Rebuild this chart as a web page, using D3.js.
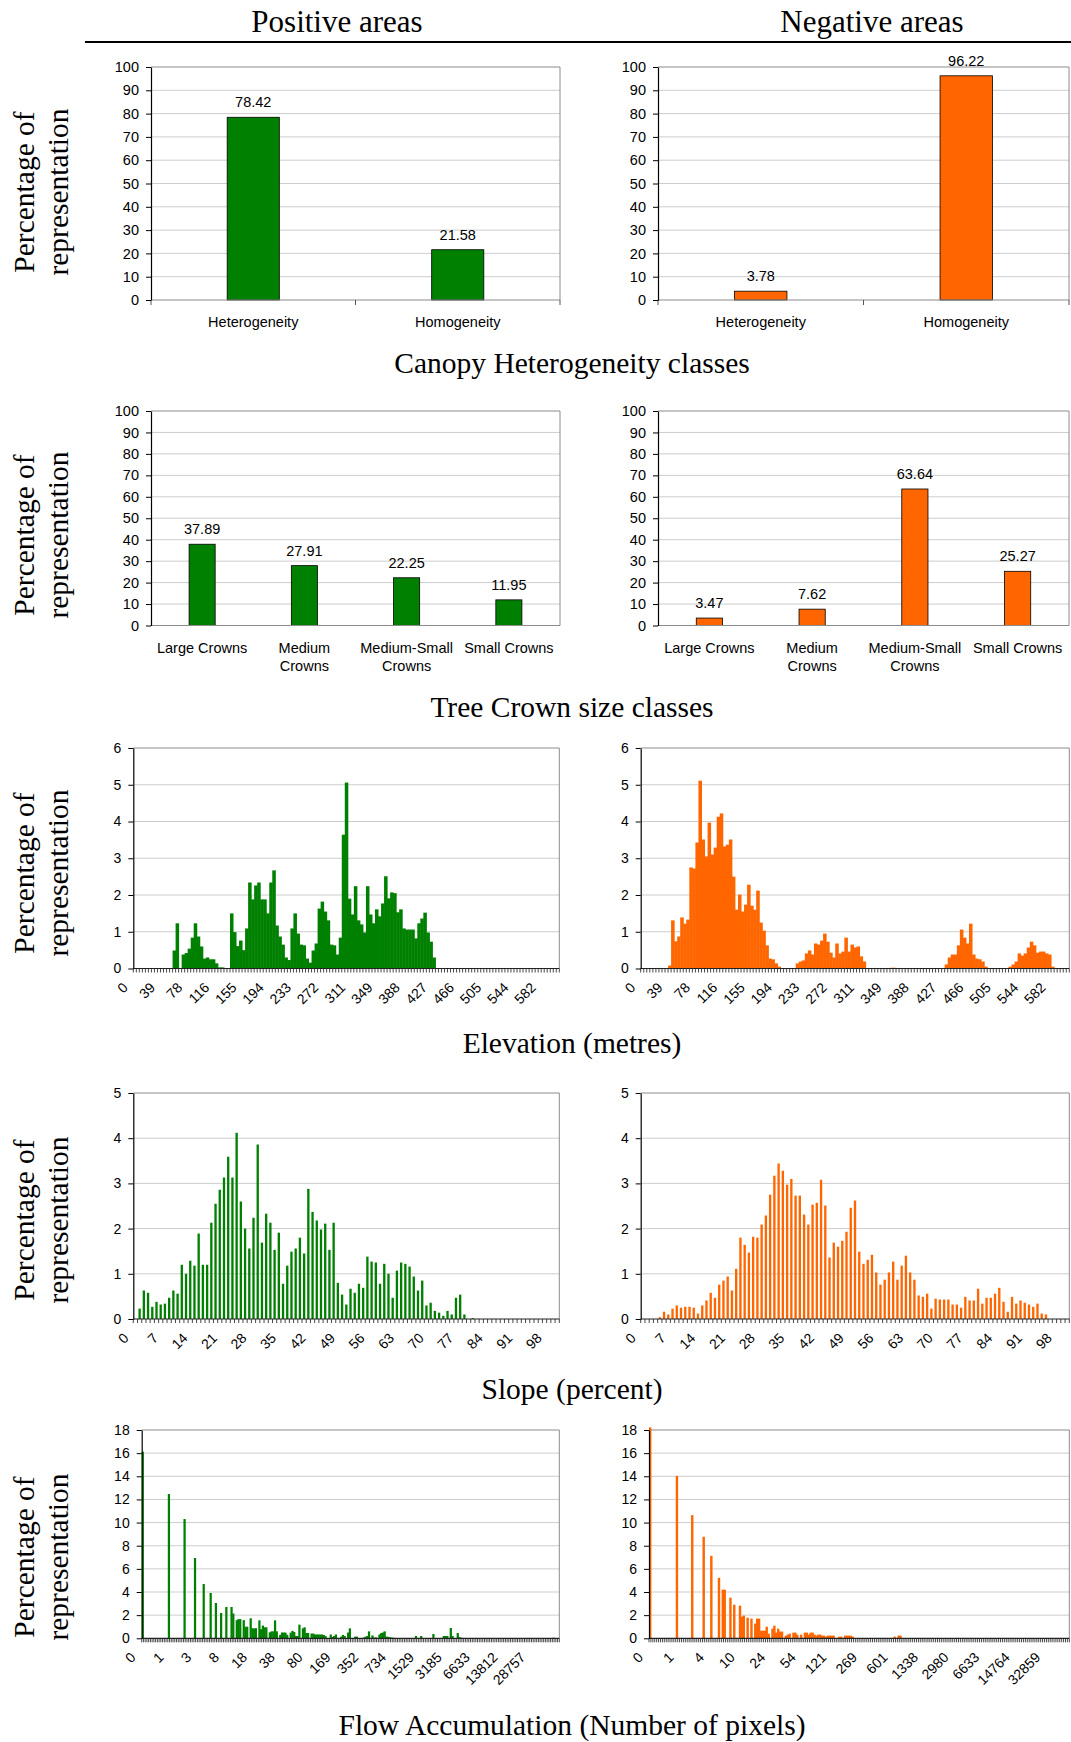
<!DOCTYPE html>
<html><head><meta charset="utf-8">
<script src="https://cdn.jsdelivr.net/npm/d3@7"></script>
<style>
html,body{margin:0;padding:0;background:#fff;}
svg{display:block;}
</style></head>
<body>
<svg id="chart" width="1071" height="1742"></svg>
<script>
// ---------------- DATA ----------------
const panelHeadings = ["Positive areas", "Negative areas"];
const yAxisTitle = ["Percentage of", "representation"];
const rowTitles = ["Canopy Heterogeneity classes", "Tree Crown size classes", "Elevation (metres)", "Slope (percent)", "Flow Accumulation (Number of pixels)"];

const canopyCats = ["Heterogeneity", "Homogeneity"];
const canopyPos = [78.42, 21.58];
const canopyNeg = [3.78, 96.22];

const crownCats = ["Large Crowns", "Medium|Crowns", "Medium-Small|Crowns", "Small Crowns"];
const crownPos = [37.89, 27.91, 22.25, 11.95];
const crownNeg = [3.47, 7.62, 63.64, 25.27];

const elevTickLabels = ["0","39","78","116","155","194","233","272","311","349","388","427","466","505","544","582"];
const elevPos = [0,0,0,0,0,0,0,0,0,0,0,0,0,
 0.49,1.23,0,0.38,0.42,0.54,0.84,1.23,0.87,0.60,0.27,0.30,0.25,0.25,0.14,0.03,0.03,0,0,
 1.50,0.99,0.61,0.76,0.50,1.09,
 2.34,1.88,2.26,2.34,1.88,1.88,1.50,2.34,2.67,1.17,
 0.87,0.65,0.30,0.23,1.09,1.50,0.95,0.65,0.63,0.27,
 0.16,0.49,0.68,1.63,1.82,1.55,1.31,0.65,0.63,0.38,
 0.84,3.64,5.06,1.90,1.47,2.24,1.31,1.20,0.98,2.24,
 1.47,1.23,1.61,1.42,1.77,2.51,1.91,2.07,2.05,1.53,
 1.61,1.09,1.06,1.06,1.06,0.82,1.23,1.36,1.52,0.98,
 0.73,0.30,
 0,0,0,0,0,0,0,0,0,0, 0,0,0,0,0,0,0,0,0,0, 0,0,0,0,0,0,0,0,0,0, 0,0,0,0,0,0,0,0,0,0, 0];
const elevNeg = [0,0,0,0,0,0,0,0,0,
 0.08,1.31,0.74,0.87,1.39,1.22,1.33,2.75,2.72,3.43,5.11,3.51,3.05,3.97,3.10,3.29,4.13,4.22,3.32,3.37,3.51,
 2.50,1.60,2.01,1.55,1.74,2.28,1.71,1.60,2.12,1.25,1.03,0.63,0.27,0.25,0.14,0.05,
 0,0,0,0,0,
 0.14,0.19,0.22,0.41,0.49,0.38,0.68,0.65,0.76,0.95,0.73,0.43,0.30,0.68,0.41,0.46,0.84,0.46,0.65,0.57,0.60,0.33,0.19,
 0,0,0,0,0,0,0,0,
 0.02,0.02,
 0,0,0,0,0,0,0,0,0,0,0,0,0,0,0,0,
 0.11,0.30,0.38,0.38,0.63,1.06,0.84,0.68,1.22,0.38,0.27,0.25,0.19,0.05,
 0,0,0,0,0,0,0,
 0.05,0.11,0.19,0.41,0.35,0.41,0.57,0.73,0.63,0.43,0.46,0.46,0.41,0.38,0.05,
 0,0,0,0,0];

const slopeTickLabels = ["0","7","14","21","28","35","42","49","56","63","70","77","84","91","98"];
const slopePos = [0,
 0.23,0.63,0.58,0.27,0.38,0.32,0.34,0.47,0.63,0.56,
 1.20,1.00,1.29,1.18,1.89,1.20,1.20,2.13,2.55,2.86,
 3.13,3.59,3.13,4.12,2.60,2.00,1.56,2.24,3.86,1.69,
 2.33,2.13,1.53,1.91,0.78,1.18,1.49,1.56,1.80,1.45,
 2.88,2.37,2.18,1.98,2.11,1.53,2.13,0.80,0.54,0.32,
 0.67,0.58,0.78,0.69,1.38,1.27,1.25,0.78,1.22,1.00,
 0.47,1.07,1.25,1.22,1.16,0.94,0.63,0.85,0.30,0.36,
 0.18,0.14,0.07,0.18,0.10,0.47,0.54,0.10,0,0.02,
 0,0,0,0,0,0,0,0,0,0, 0,0,0,0,0,0,0,0,0,0];
const slopeNeg = [0,0,0,0,
 0.04,0.16,0.10,0.23,0.30,0.25,0.27,0.27,0.25,0.12,0.30,0.41,0.58,0.47,0.76,0.85,0.94,0.63,1.11,1.80,1.64,1.47,1.82,1.80,2.09,2.29,
 2.75,3.17,3.44,3.28,2.97,3.10,2.73,2.73,2.31,2.09,2.53,2.57,3.08,2.51,1.36,1.69,1.60,1.73,1.93,2.46,
 2.62,1.49,1.22,1.31,1.42,1.03,0.76,0.87,1.03,1.27,0.87,1.18,1.40,1.03,0.87,0.52,0.49,0.56,0.23,0.45,
 0.43,0.43,0.43,0.32,0.32,0.25,0.49,0.41,0.41,0.67,0.34,0.47,0.47,0.56,0.69,0.38,0.16,0.49,0.34,0.41,
 0.36,0.32,0.27,0.34,0.12,0.10,
 0,0,0,0,0];

// flow accumulation: geometric bins, [bin index, percentage]
const flowPosBinCount = 240;
const flowNegBinCount = 220;
const flowPosTickLabels = ["0","1","3","8","18","38","80","169","352","734","1529","3185","6633","13812","28757"];
const flowNegTickLabels = ["0","1","4","10","24","54","121","269","601","1338","2980","6633","14764","32859"];
const flowPos = [[0,16.13],[15,12.47],[24,10.31],[30,6.94],[35,4.69],[39,3.92],[42,3.05],[45,2.19],[48,2.71],[51,2.71],[52,2.14],[54,1.57],[55,1.66],[56,1.66],[58,1.57],[59,1.0],[60,1.0],[62,1.73],[63,0.88],[64,0.84],[65,0.88],[67,1.55],[68,0.78],[69,1.1],[70,0.95],[71,0.95],[73,0.52],[74,0.6],[75,0.6],[76,1.55],[77,0.6],[79,0.3],[80,0.5],[81,0.5],[82,0.49],[83,0.3],[85,0.49],[86,0.64],[87,0.55],[88,0.2],[89,0.2],[90,1.18],[92,0.86],[93,0.95],[94,0.46],[95,0.46],[97,0.41],[98,0.41],[99,0.33],[100,0.33],[101,0.33],[102,0.33],[103,0.33],[104,0.29],[105,0.2],[108,0.33],[109,0.12],[110,0.2],[111,0.33],[114,0.14],[115,0.29],[116,0.2],[118,0.5],[119,0.86],[122,0.14],[123,0.15],[127,0.06],[128,0.14],[129,0.2],[130,0.6],[132,0.25],[133,0.06],[134,0.08],[136,0.33],[137,0.45],[138,0.5],[139,0.6],[140,0.15],[141,0.12],[142,0.1],[143,0.06],[144,0.05],[157,0.2],[160,0.2],[167,0.37],[173,0.2],[174,0.2],[175,0.2],[177,0.89],[178,0.2],[181,0.46],[182,0.1],[183,0.05],[236,0.05]];
const flowNeg = [[0,18.23],[14,14.03],[22,10.64],[28,8.77],[32,7.13],[36,5.23],[38,4.2],[39,4.2],[42,3.51],[44,2.9],[47,2.82],[48,1.87],[49,1.96],[51,1.78],[53,1.7],[55,1.27],[56,1.7],[57,1.7],[58,0.66],[59,0.66],[60,0.66],[61,1.0],[62,0.4],[64,0.83],[65,1.09],[66,0.49],[67,0.83],[68,0.58],[69,0.58],[71,0.23],[72,0.32],[73,0.4],[75,0.49],[76,0.49],[77,0.32],[79,0.32],[81,0.49],[82,0.49],[83,0.32],[84,0.49],[85,0.49],[86,0.32],[87,0.23],[88,0.32],[89,0.32],[90,0.23],[91,0.23],[92,0.14],[93,0.23],[94,0.23],[95,0.23],[96,0.23],[99,0.14],[100,0.14],[102,0.23],[103,0.23],[104,0.23],[105,0.23],[106,0.14],[128,0.14],[130,0.23],[131,0.23]];

// ---------------- STYLE / LAYOUT ----------------
const GREEN = "#008000", ORANGE = "#FF6600";
const SERIF = "'Liberation Serif','Times New Roman',Times,serif";
const SANS = "'Liberation Sans',Arial,Helvetica,sans-serif";
const svg = d3.select("#chart");

// headings
const headX = [337, 872];
panelHeadings.forEach((h, i) => {
  svg.append("text").attr("x", headX[i]).attr("y", 32).attr("text-anchor", "middle")
    .attr("font-family", SERIF).attr("font-size", 31).text(h);
});
svg.append("line").attr("x1", 85).attr("x2", 1071).attr("y1", 42).attr("y2", 42)
  .attr("stroke", "#000").attr("stroke-width", 2);

// row titles and y titles
const rowTitleY = [373, 717, 1053, 1399, 1735];
rowTitles.forEach((t, i) => {
  svg.append("text").attr("x", 572).attr("y", rowTitleY[i]).attr("text-anchor", "middle")
    .attr("font-family", SERIF).attr("font-size", 29.5).text(t);
});
const yTitleCenter = [192, 535, 873, 1220, 1557];
yTitleCenter.forEach(cy => {
  const g = svg.append("g").attr("transform", `translate(41,${cy}) rotate(-90)`);
  g.append("text").attr("x", 0).attr("y", -17).attr("dy", "0.33em").attr("text-anchor", "middle")
    .attr("font-family", SERIF).attr("font-size", 29.5).text(yAxisTitle[0]);
  g.append("text").attr("x", 0).attr("y", 17).attr("dy", "0.33em").attr("text-anchor", "middle")
    .attr("font-family", SERIF).attr("font-size", 29.5).text(yAxisTitle[1]);
});

function frame(x0, x1, y, tickVals) {
  const g = svg.append("g");
  const yTop = y(tickVals[tickVals.length - 1]), yBot = y(0);
  g.selectAll("line.grid").data(tickVals.slice(1, -1)).join("line")
    .attr("x1", x0).attr("x2", x1).attr("y1", d => y(d)).attr("y2", d => y(d))
    .attr("stroke", "#cdcdcd").attr("stroke-width", 1);
  g.append("path").attr("d", `M${x0},${yTop}H${x1}V${yBot}`).attr("fill", "none")
    .attr("stroke", "#8c8c8c").attr("stroke-width", 1);
  return g;
}
function leftAxis(x0, y, tickVals, fs) {
  const ax = svg.append("g").attr("transform", `translate(${x0},0)`)
    .call(d3.axisLeft(y).tickValues(tickVals).tickFormat(d3.format("d")).tickSize(5).tickSizeOuter(0).tickPadding(7));
  ax.select(".domain").attr("stroke", "#000").attr("stroke-width", 1.2);
  ax.selectAll(".tick line").attr("stroke", "#000");
  ax.selectAll(".tick text").attr("font-family", SANS).attr("font-size", fs).attr("fill", "#000");
}

// ---------- categorical bar panels ----------
function barPanel(cats, vals, color, x0, x1, yTop, yBot) {
  const fs = 14.5;
  const y = d3.scaleLinear().domain([0, 100]).range([yBot, yTop]);
  const ticks = d3.range(0, 101, 10);
  const x = d3.scaleBand().domain(cats).range([x0, x1]).padding(0);
  frame(x0, x1, y, ticks);
  const bw = x.bandwidth() * 0.255;
  svg.append("g").selectAll("rect").data(cats).join("rect")
    .attr("x", d => x(d) + (x.bandwidth() - bw) / 2).attr("width", bw)
    .attr("y", (d, i) => y(vals[i])).attr("height", (d, i) => yBot - y(vals[i]))
    .attr("fill", color).attr("stroke", "#000").attr("stroke-width", 0.8);
  svg.append("line").attr("x1", x0).attr("x2", x1).attr("y1", yBot).attr("y2", yBot)
    .attr("stroke", "#8c8c8c").attr("stroke-width", 1.2);
  if (cats.length === 2) {
    [x0, x0 + x.bandwidth(), x1].forEach(tx => {
      svg.append("line").attr("x1", tx).attr("x2", tx).attr("y1", yBot).attr("y2", yBot + 5)
        .attr("stroke", "#555").attr("stroke-width", 1);
    });
  }
  leftAxis(x0, y, ticks, fs);
  svg.append("g").selectAll("text").data(cats).join("text")
    .attr("x", d => x(d) + x.bandwidth() / 2).attr("y", (d, i) => y(vals[i]) - 10)
    .attr("text-anchor", "middle").attr("font-family", SANS).attr("font-size", fs)
    .text((d, i) => vals[i].toFixed(2));
  cats.forEach(c => {
    const lines = c.split("|");
    const t = svg.append("text").attr("text-anchor", "middle").attr("font-family", SANS).attr("font-size", fs);
    lines.forEach((ln, k) => {
      t.append("tspan").attr("x", x(c) + x.bandwidth() / 2).attr("y", yBot + 27 + k * 18).text(ln);
    });
  });
}

barPanel(canopyCats, canopyPos, GREEN, 151, 560, 67, 300);
barPanel(canopyCats, canopyNeg, ORANGE, 658, 1069, 67, 300);
barPanel(crownCats, crownPos, GREEN, 151, 560, 411, 625.5);
barPanel(crownCats, crownNeg, ORANGE, 658, 1069, 411, 625.5);

// ---------- histogram panels ----------
function histPanel(opts) {
  const { vals, nCat, color, x0, x1, yTop, yBot, yMax, yStep, tickLabels, every, barFrac } = opts;
  const fs = 14;
  const y = d3.scaleLinear().domain([0, yMax]).range([yBot, yTop]);
  const ticks = d3.range(0, yMax + yStep / 2, yStep);
  const x = d3.scaleBand().domain(d3.range(nCat)).range([x0, x1]).padding(0);
  frame(x0, x1, y, ticks);
  const bw = x.bandwidth() * barFrac;
  svg.append("g").selectAll("rect").data(vals.filter(d => d[1] > 0)).join("rect")
    .attr("x", d => x(d[0]) + (x.bandwidth() - bw) / 2).attr("width", bw + (barFrac === 1 ? 0.5 : 0))
    .attr("y", d => y(d[1])).attr("height", d => yBot - y(d[1]))
    .attr("fill", color);
  const bounds = d3.range(nCat + 1).map(i => i < nCat ? x(i) : x1);
  svg.append("g").selectAll("line").data(bounds).join("line")
    .attr("x1", d => d).attr("x2", d => d).attr("y1", yBot).attr("y2", yBot + 4)
    .attr("stroke", "#333").attr("stroke-width", 0.9);
  svg.append("line").attr("x1", x0).attr("x2", x1).attr("y1", yBot).attr("y2", yBot)
    .attr("stroke", "#222").attr("stroke-width", 1.2);
  leftAxis(x0, y, ticks, fs);
  svg.append("g").selectAll("text").data(tickLabels).join("text")
    .attr("transform", (d, i) => `translate(${x(i * every) + x.bandwidth() / 2 - 6},${yBot + 20}) rotate(-45)`)
    .attr("text-anchor", "end").attr("font-family", SANS).attr("font-size", fs).text(d => d);
}

const asPairs = arr => arr.map((v, i) => [i, v]);

histPanel({ vals: asPairs(elevPos), nCat: elevPos.length, color: GREEN, x0: 133.3, x1: 559.3, yTop: 748, yBot: 968.5, yMax: 6, yStep: 1, tickLabels: elevTickLabels, every: 9, barFrac: 1 });
histPanel({ vals: asPairs(elevNeg), nCat: elevNeg.length, color: ORANGE, x0: 640.7, x1: 1069.3, yTop: 748, yBot: 968.5, yMax: 6, yStep: 1, tickLabels: elevTickLabels, every: 9, barFrac: 1 });
histPanel({ vals: asPairs(slopePos), nCat: slopePos.length, color: GREEN, x0: 133.3, x1: 559.3, yTop: 1093, yBot: 1319, yMax: 5, yStep: 1, tickLabels: slopeTickLabels, every: 7, barFrac: 0.55 });
histPanel({ vals: asPairs(slopeNeg), nCat: slopeNeg.length, color: ORANGE, x0: 640.7, x1: 1069.3, yTop: 1093, yBot: 1319, yMax: 5, yStep: 1, tickLabels: slopeTickLabels, every: 7, barFrac: 0.55 });
histPanel({ vals: flowPos, nCat: flowPosBinCount, color: GREEN, x0: 141.7, x1: 559.3, yTop: 1430, yBot: 1638.3, yMax: 18, yStep: 2, tickLabels: flowPosTickLabels, every: 16, barFrac: 1 });
histPanel({ vals: flowNeg, nCat: flowNegBinCount, color: ORANGE, x0: 649, x1: 1069.3, yTop: 1430, yBot: 1638.3, yMax: 18, yStep: 2, tickLabels: flowNegTickLabels, every: 16, barFrac: 1 });
</script>
</body></html>
